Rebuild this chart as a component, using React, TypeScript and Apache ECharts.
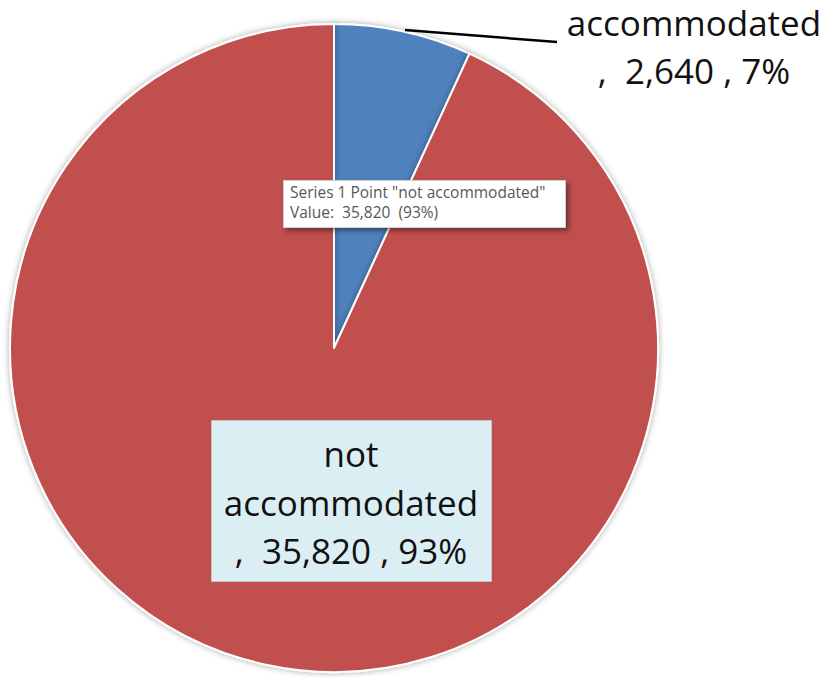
import React, { useEffect, useRef } from "react";
import * as echarts from "echarts";

const categories = ["accommodated", "not accommodated"];
const values = [2640, 35820];
const percents = ["7%", "93%"];
const colors = ["#4f81bd", "#c0504d"];
const seriesName = "Series 1";

const fmt = (v: number) => v.toLocaleString("en-US");

export default function App() {
  const ref = useRef<HTMLDivElement>(null);
  useEffect(() => {
    const chart = echarts.init(ref.current!, null, { renderer: "svg" });
    const font = "'Open Sans', 'Liberation Sans', sans-serif";
    const textColor = "#111111";
    const big = `35px ${font}`;
    const small = `15.5px ${font}`;
    chart.setOption({
      animation: false,
      backgroundColor: "#ffffff",
      series: [
        {
          type: "pie",
          name: seriesName,
          center: [334, 348],
          radius: [0, 324],
          startAngle: 90,
          clockwise: true,
          z: 2,
          label: { show: false },
          labelLine: { show: false },
          itemStyle: {
            borderColor: "#ffffff",
            borderWidth: 2,
            shadowBlur: 6,
            shadowColor: "rgba(0,0,0,0.35)",
          },
          data: categories.map((c, i) => ({
            name: c,
            value: values[i],
            itemStyle: { color: colors[i] },
          })),
        },
      ],
      graphic: {
        elements: [
          {
            type: "line",
            z: 100,
            shape: { x1: 405, y1: 30, x2: 557, y2: 42 },
            style: { stroke: "#000", lineWidth: 2.5 },
          },
          {
            type: "text",
            z: 100,
            x: 694,
            y: 22,
            style: {
              text: categories[0],
              font: big,
              fill: textColor,
              align: "center",
              verticalAlign: "middle",
            },
          },
          {
            type: "text",
            z: 100,
            x: 694,
            y: 70,
            style: {
              text: `,  ${fmt(values[0])} , ${percents[0]}`,
              font: big,
              fill: textColor,
              align: "center",
              verticalAlign: "middle",
            },
          },
          {
            type: "rect",
            z: 100,
            shape: { x: 211.5, y: 420.5, width: 280, height: 161 },
            style: { fill: "#dbeef4", stroke: "#c4c4c4", lineWidth: 1 },
          },
          {
            type: "text",
            z: 101,
            x: 351,
            y: 453,
            style: {
              text: "not",
              font: big,
              fill: textColor,
              align: "center",
              verticalAlign: "middle",
            },
          },
          {
            type: "text",
            z: 101,
            x: 351,
            y: 502,
            style: {
              text: "accommodated",
              font: big,
              fill: textColor,
              align: "center",
              verticalAlign: "middle",
            },
          },
          {
            type: "text",
            z: 101,
            x: 351,
            y: 550,
            style: {
              text: `,  ${fmt(values[1])} , ${percents[1]}`,
              font: big,
              fill: textColor,
              align: "center",
              verticalAlign: "middle",
            },
          },
          {
            type: "rect",
            z: 100,
            shape: { x: 283.5, y: 180.5, width: 282, height: 47 },
            style: {
              fill: "#ffffff",
              stroke: "#cfcfcf",
              lineWidth: 1,
              shadowBlur: 5,
              shadowOffsetX: 3,
              shadowOffsetY: 3,
              shadowColor: "rgba(0,0,0,0.4)",
            },
          },
          {
            type: "text",
            z: 101,
            x: 290,
            y: 192,
            style: {
              text: `${seriesName} Point "${categories[1]}"`,
              font: small,
              fill: "#575757",
              align: "left",
              verticalAlign: "middle",
            },
          },
          {
            type: "text",
            z: 101,
            x: 290,
            y: 212,
            style: {
              text: `Value:  ${fmt(values[1])}  (${percents[1]})`,
              font: small,
              fill: "#575757",
              align: "left",
              verticalAlign: "middle",
            },
          },
        ],
      },
    });
    return () => chart.dispose();
  }, []);
  return (
    <div
      ref={ref}
      style={{ position: "fixed", left: 0, top: 0, width: 828, height: 677 }}
    />
  );
}
